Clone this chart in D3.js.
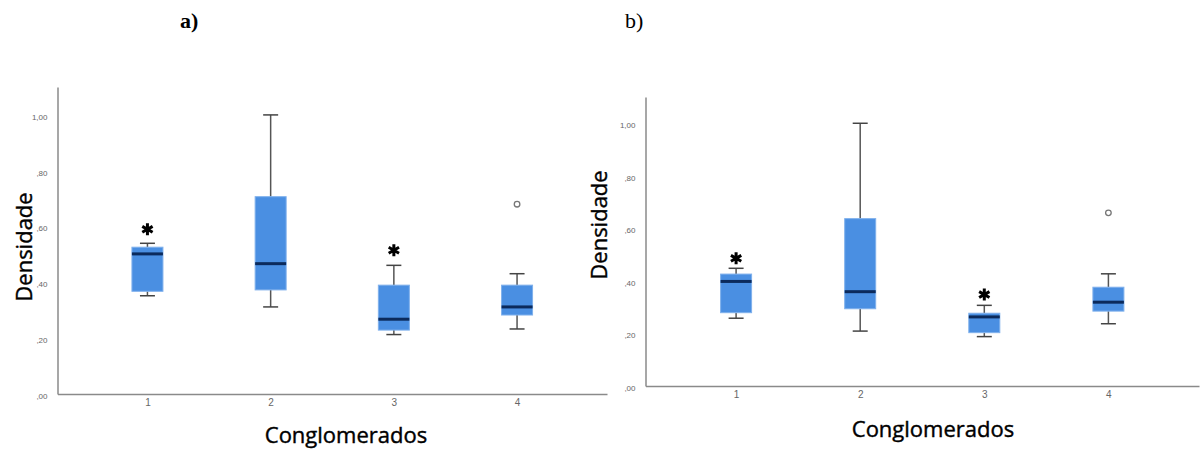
<!DOCTYPE html>
<meta charset="utf-8">
<script src="https://d3js.org/d3.v7.min.js"></script>
<style>
  body { margin: 0; background: #fff; }
</style>
<div id="my_dataviz"></div>
<script>

// categories and tick values shared by both panels
var categories = ["1", "2", "3", "4"];
var yTicks = [0, 0.2, 0.4, 0.6, 0.8, 1.0];

// panel a)
var aLow    = [0.352, 0.312, 0.213, 0.233];
var aQ1     = [0.368, 0.373, 0.229, 0.283];
var aMedian = [0.502, 0.467, 0.268, 0.312];
var aQ3     = [0.526, 0.707, 0.390, 0.390];
var aHigh   = [0.540, 1.000, 0.461, 0.431];
var aExtreme = [{cat: "1", v: 0.59}, {cat: "3", v: 0.515}];
var aOutlier = [{cat: "4", v: 0.68}];

// panel b)
var bLow    = [0.258, 0.209, 0.188, 0.237];
var bQ1     = [0.279, 0.294, 0.203, 0.285];
var bMedian = [0.398, 0.359, 0.263, 0.319];
var bQ3     = [0.426, 0.637, 0.277, 0.376];
var bHigh   = [0.448, 1.000, 0.307, 0.427];
var bExtreme = [{cat: "1", v: 0.486}, {cat: "3", v: 0.348}];
var bOutlier = [{cat: "4", v: 0.659}];

var svg = d3.select("#my_dataviz")
  .append("svg")
    .attr("width", 1200)
    .attr("height", 455);

var fmt = function(d) {
  return d3.format(".2f")(d).replace(".", ",").replace(/^0/, "");
};

function drawPanel(opt) {
  var x = d3.scalePoint()
    .domain(categories)
    .range([opt.left, opt.right])
    .padding(0.73);

  var y = d3.scaleLinear()
    .domain([0, 1.1])
    .range([opt.bottom, opt.top]);

  var rows = categories.map(function(c, i) {
    return {cat: c, low: opt.low[i], q1: opt.q1[i], med: opt.med[i], q3: opt.q3[i], high: opt.high[i]};
  });

  // Y axis
  var ya = svg.append("g")
    .attr("transform", "translate(" + opt.left + ",0)")
    .call(d3.axisLeft(y).tickValues(yTicks).tickFormat(fmt).tickSize(0).tickPadding(10));
  ya.select(".domain").attr("stroke", "#8a8a8a").attr("stroke-width", 1.5);
  ya.selectAll("text")
    .attr("dy", "0.55em")
    .style("font-family", "Liberation Sans, Arial, sans-serif")
    .style("font-size", "8px")
    .style("fill", "#666");

  // X axis
  var xa = svg.append("g")
    .attr("transform", "translate(0," + opt.bottom + ")")
    .call(d3.axisBottom(x).tickSize(0).tickPadding(5));
  xa.select(".domain").attr("stroke", "#8a8a8a").attr("stroke-width", 1.5);
  xa.selectAll("text")
    .style("font-family", "Liberation Sans, Arial, sans-serif")
    .style("font-size", "10px")
    .style("fill", "#666");

  var bw = 31, cap = 15;
  var g = svg.append("g");

  // whiskers
  g.selectAll("lowline").data(rows).enter().append("line")
    .attr("x1", function(d) { return x(d.cat); })
    .attr("x2", function(d) { return x(d.cat); })
    .attr("y1", function(d) { return y(d.low); })
    .attr("y2", function(d) { return y(d.q1); })
    .attr("stroke", "#555").attr("stroke-width", 1.5);
  g.selectAll("highline").data(rows).enter().append("line")
    .attr("x1", function(d) { return x(d.cat); })
    .attr("x2", function(d) { return x(d.cat); })
    .attr("y1", function(d) { return y(d.q3); })
    .attr("y2", function(d) { return y(d.high); })
    .attr("stroke", "#555").attr("stroke-width", 1.5);
  g.selectAll("lowcap").data(rows).enter().append("line")
    .attr("x1", function(d) { return x(d.cat) - cap / 2; })
    .attr("x2", function(d) { return x(d.cat) + cap / 2; })
    .attr("y1", function(d) { return y(d.low); })
    .attr("y2", function(d) { return y(d.low); })
    .attr("stroke", "#444").attr("stroke-width", 1.5);
  g.selectAll("highcap").data(rows).enter().append("line")
    .attr("x1", function(d) { return x(d.cat) - cap / 2; })
    .attr("x2", function(d) { return x(d.cat) + cap / 2; })
    .attr("y1", function(d) { return y(d.high); })
    .attr("y2", function(d) { return y(d.high); })
    .attr("stroke", "#444").attr("stroke-width", 1.5);

  // boxes
  g.selectAll("mybox").data(rows).enter().append("rect")
    .attr("x", function(d) { return x(d.cat) - bw / 2; })
    .attr("y", function(d) { return y(d.q3); })
    .attr("width", bw)
    .attr("height", function(d) { return y(d.q1) - y(d.q3); })
    .attr("fill", "#4a8fe2")
    .attr("stroke", "#7fb0ec")
    .attr("stroke-width", 1);

  // medians
  g.selectAll("median").data(rows).enter().append("line")
    .attr("x1", function(d) { return x(d.cat) - bw / 2; })
    .attr("x2", function(d) { return x(d.cat) + bw / 2; })
    .attr("y1", function(d) { return y(d.med); })
    .attr("y2", function(d) { return y(d.med); })
    .attr("stroke", "#0b2a5c").attr("stroke-width", 3);

  // extremes (asterisks)
  g.selectAll("extreme").data(opt.extreme).enter().append("path")
    .attr("transform", function(d) { return "translate(" + x(d.cat) + "," + y(d.v) + ")"; })
    .attr("d", d3.symbol(d3.symbolAsterisk, 100))
    .attr("fill", "none")
    .attr("stroke", "#000")
    .attr("stroke-width", 3);

  // outliers
  g.selectAll("outlier").data(opt.outlier).enter().append("circle")
    .attr("cx", function(d) { return x(d.cat); })
    .attr("cy", function(d) { return y(d.v); })
    .attr("r", 2.8)
    .attr("fill", "#fff")
    .attr("stroke", "#777")
    .attr("stroke-width", 1.3);

  // axis titles
  svg.append("text")
    .attr("transform", "translate(" + opt.ylx + "," + opt.yly + ")rotate(-90)")
    .attr("text-anchor", "middle")
    .attr("dominant-baseline", "central")
    .style("font-family", "Open Sans, sans-serif")
    .style("font-size", "22px")
    .style("fill", "#000")
    .style("stroke", "#000")
    .style("stroke-width", 0.4)
    .text("Densidade");
  svg.append("text")
    .attr("x", opt.xlx).attr("y", opt.xly)
    .attr("text-anchor", "middle")
    .style("font-family", "Open Sans, sans-serif")
    .style("font-size", "22px")
    .style("fill", "#000")
    .style("stroke", "#000")
    .style("stroke-width", 0.4)
    .text("Conglomerados");

  // panel label
  svg.append("text")
    .attr("x", opt.lx).attr("y", 28)
    .style("font-family", "Liberation Serif, Times New Roman, serif")
    .style("font-size", "22px")
    .style("font-weight", opt.bold ? "bold" : "normal")
    .style("fill", "#000")
    .text(opt.label);
}

drawPanel({
  left: 57.5, right: 607, top: 87, bottom: 394,
  low: aLow, q1: aQ1, med: aMedian, q3: aQ3, high: aHigh,
  extreme: aExtreme, outlier: aOutlier,
  ylx: 23, yly: 247, xlx: 346, xly: 443,
  lx: 180, label: "a)", bold: true
});

drawPanel({
  left: 645.5, right: 1199, top: 97, bottom: 386,
  low: bLow, q1: bQ1, med: bMedian, q3: bQ3, high: bHigh,
  extreme: bExtreme, outlier: bOutlier,
  ylx: 598, yly: 225, xlx: 933, xly: 437,
  lx: 625, label: "b)", bold: false
});

</script>
